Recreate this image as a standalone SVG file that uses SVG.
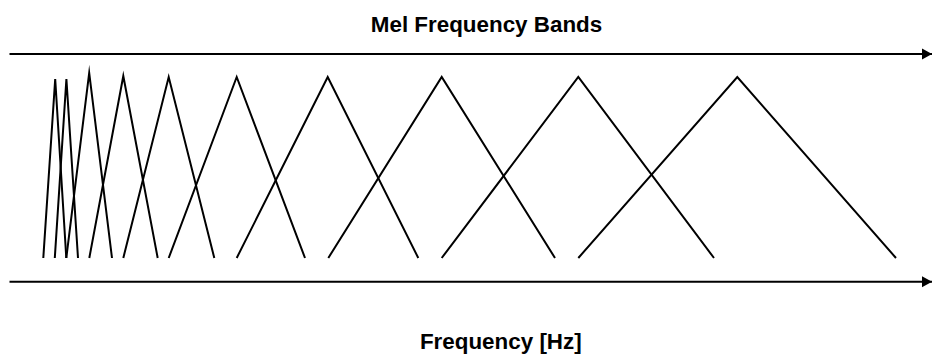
<svg xmlns="http://www.w3.org/2000/svg" width="932" height="356" viewBox="0 0 932 356">
<style>
.t{font-family:"Liberation Sans",Arial,sans-serif;font-weight:bold;font-size:22.4px;fill:#000;text-anchor:middle}
.ax{stroke:#000;stroke-width:2;fill:none}
.tri{stroke:#000;stroke-width:2;fill:none;stroke-linejoin:miter;stroke-miterlimit:10}
</style>
<defs>
<marker id="ah" markerUnits="userSpaceOnUse" markerWidth="12" markerHeight="12" refX="10" refY="6" orient="auto">
<path d="M0,0.5 L10,6 L0,11.5 Z" fill="#000"/>
</marker>
</defs>
<g id="title"><text class="t" x="486.5" y="31.7">Mel Frequency Bands</text></g>
<g id="xlabel"><text class="t" x="500.8" y="349.3">Frequency [Hz]</text></g>
<g id="connectors">
<line class="ax" x1="9.5" y1="54" x2="932" y2="54" marker-end="url(#ah)"/>
<line class="ax" x1="9.5" y1="281.7" x2="932" y2="281.7" marker-end="url(#ah)"/>
</g>
<g id="bands">
<polyline id="b1" class="tri" points="43.3,258 55.2,79 66.3,258"/>
<polyline id="b2" class="tri" points="54.8,258 66.4,79 78,258"/>
<polyline id="b3" class="tri" points="66.3,258 89.2,73 112,258"/>
<polyline id="b4" class="tri" points="89.3,258 123.3,76 157.7,258"/>
<polyline id="b5" class="tri" points="123.3,258 168.7,77 214.3,258"/>
<polyline id="b6" class="tri" points="168.7,258 236.7,77 305,258"/>
<polyline id="b7" class="tri" points="236.7,258 327.7,77 418.3,258"/>
<polyline id="b8" class="tri" points="328.3,258 441.7,77 555,258"/>
<polyline id="b9" class="tri" points="441.7,258 578.3,77 714,258"/>
<polyline id="b10" class="tri" points="578.3,258 737.3,77 896,258"/>
</g>
</svg>
